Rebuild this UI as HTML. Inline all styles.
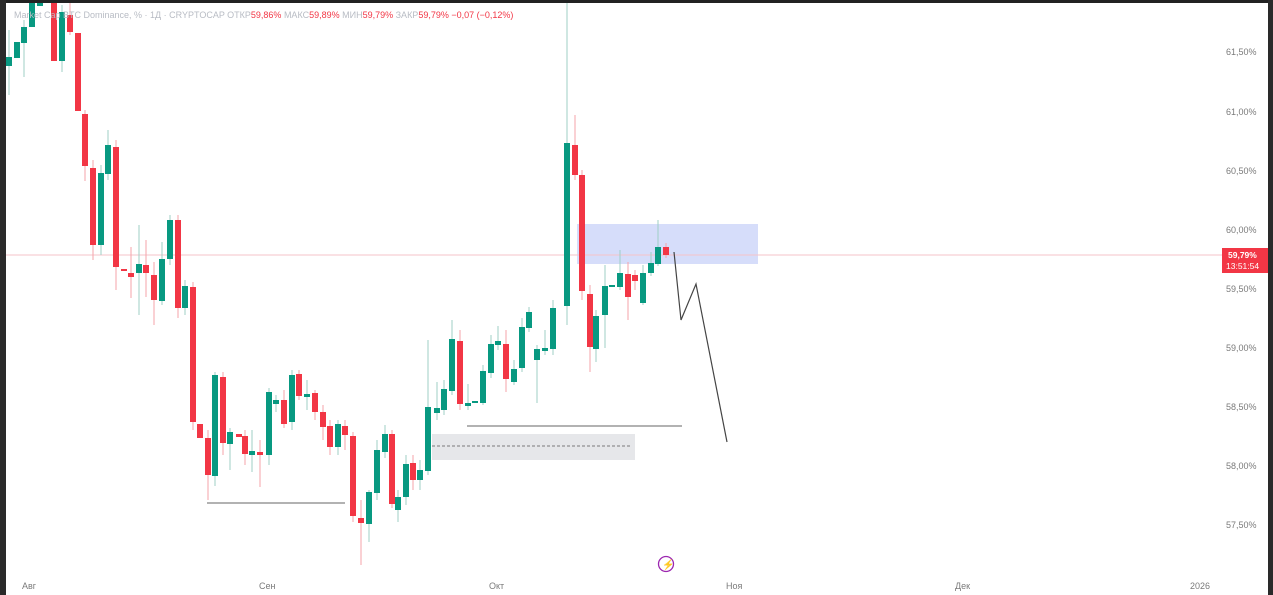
<!DOCTYPE html>
<html><head><meta charset="utf-8"><style>
html,body{margin:0;padding:0;background:#fff;}
svg{display:block;font-family:"Liberation Sans","Noto Sans CJK SC",sans-serif;}
.g{fill:#089981}.r{fill:#f23645}
.gw{stroke:#9fcfc6;stroke-width:1}.rw{stroke:#f5a3aa;stroke-width:1}
.ax{fill:#7a7a7a;font-size:9px}
</style></head><body>
<svg width="1273" height="595" viewBox="0 0 1273 595">
<rect width="1273" height="595" fill="#fff"/>
<!-- overlays -->
<rect x="577" y="224" width="181" height="40" fill="#d6ddfa"/>
<rect x="432" y="434" width="203" height="26" fill="#e6e7ea"/>
<line x1="432" y1="446" x2="632" y2="446" stroke="#555" stroke-dasharray="3,2" stroke-width="0.8"/>
<line x1="207" y1="503" x2="345" y2="503" stroke="#666" stroke-width="1"/>
<line x1="467" y1="426" x2="682" y2="426" stroke="#666" stroke-width="1"/>
<line x1="0" y1="255" x2="1222" y2="255" stroke="#f6c3c8" stroke-width="1"/>
<polyline points="674,252 681,320 696,284 727,442" fill="none" stroke="#444" stroke-width="1.2"/>
<!-- wicks -->
<g class="gw">
<line x1="9" y1="30" x2="9" y2="95"/><line x1="24" y1="20" x2="24" y2="77"/><line x1="62" y1="5" x2="62" y2="72"/>
<line x1="101" y1="165" x2="101" y2="255"/><line x1="108" y1="130" x2="108" y2="180"/><line x1="139" y1="225" x2="139" y2="315"/>
<line x1="162" y1="242" x2="162" y2="305"/><line x1="170" y1="215" x2="170" y2="265"/><line x1="185" y1="280" x2="185" y2="315"/>
<line x1="215" y1="372" x2="215" y2="486"/><line x1="230" y1="428" x2="230" y2="470"/><line x1="252" y1="430" x2="252" y2="472"/>
<line x1="269" y1="388" x2="269" y2="465"/><line x1="276" y1="395" x2="276" y2="412"/><line x1="292" y1="370" x2="292" y2="430"/>
<line x1="307" y1="380" x2="307" y2="410"/><line x1="338" y1="420" x2="338" y2="455"/><line x1="369" y1="490" x2="369" y2="542"/>
<line x1="377" y1="440" x2="377" y2="500"/><line x1="385" y1="425" x2="385" y2="458"/><line x1="398" y1="490" x2="398" y2="522"/>
<line x1="406" y1="455" x2="406" y2="505"/><line x1="420" y1="460" x2="420" y2="490"/><line x1="428" y1="340" x2="428" y2="475"/>
<line x1="437" y1="382" x2="437" y2="420"/><line x1="444" y1="380" x2="444" y2="415"/><line x1="452" y1="320" x2="452" y2="395"/>
<line x1="468" y1="384" x2="468" y2="410"/><line x1="483" y1="365" x2="483" y2="405"/><line x1="491" y1="335" x2="491" y2="378"/>
<line x1="498" y1="326" x2="498" y2="350"/><line x1="514" y1="360" x2="514" y2="385"/><line x1="522" y1="318" x2="522" y2="372"/>
<line x1="529" y1="307" x2="529" y2="332"/><line x1="537" y1="345" x2="537" y2="403"/><line x1="545" y1="330" x2="545" y2="355"/>
<line x1="553" y1="300" x2="553" y2="355"/><line x1="567" y1="0" x2="567" y2="325"/><line x1="596" y1="310" x2="596" y2="362"/>
<line x1="605" y1="265" x2="605" y2="348"/><line x1="620" y1="250" x2="620" y2="290"/><line x1="643" y1="265" x2="643" y2="305"/>
<line x1="651" y1="252" x2="651" y2="276"/><line x1="658" y1="220" x2="658" y2="266"/>
</g>
<g class="rw">
<line x1="70" y1="0" x2="70" y2="35"/><line x1="85" y1="110" x2="85" y2="181"/><line x1="93" y1="160" x2="93" y2="260"/>
<line x1="116" y1="140" x2="116" y2="290"/><line x1="131" y1="247" x2="131" y2="298"/><line x1="146" y1="240" x2="146" y2="297"/>
<line x1="154" y1="262" x2="154" y2="325"/><line x1="178" y1="215" x2="178" y2="318"/><line x1="193" y1="282" x2="193" y2="430"/>
<line x1="208" y1="430" x2="208" y2="500"/><line x1="223" y1="372" x2="223" y2="455"/><line x1="245" y1="430" x2="245" y2="465"/>
<line x1="260" y1="440" x2="260" y2="487"/><line x1="284" y1="390" x2="284" y2="428"/><line x1="299" y1="370" x2="299" y2="400"/>
<line x1="315" y1="390" x2="315" y2="420"/><line x1="323" y1="405" x2="323" y2="440"/><line x1="330" y1="420" x2="330" y2="455"/>
<line x1="345" y1="420" x2="345" y2="450"/><line x1="353" y1="432" x2="353" y2="522"/><line x1="361" y1="500" x2="361" y2="565"/>
<line x1="392" y1="430" x2="392" y2="508"/><line x1="413" y1="455" x2="413" y2="490"/><line x1="460" y1="330" x2="460" y2="410"/>
<line x1="506" y1="330" x2="506" y2="392"/><line x1="575" y1="115" x2="575" y2="180"/><line x1="582" y1="170" x2="582" y2="300"/>
<line x1="590" y1="285" x2="590" y2="372"/><line x1="628" y1="262" x2="628" y2="320"/><line x1="635" y1="270" x2="635" y2="290"/>
<line x1="666" y1="243" x2="666" y2="258"/>
</g>
<!-- bodies green -->
<g class="g">
<rect x="6" y="57" width="6" height="9"/><rect x="14" y="42" width="6" height="16"/><rect x="21" y="27" width="6" height="16"/>
<rect x="29" y="0" width="6" height="27"/><rect x="37" y="0" width="6" height="6"/><rect x="59" y="12" width="6" height="49"/>
<rect x="98" y="173" width="6" height="72"/><rect x="105" y="145" width="6" height="29"/><rect x="136" y="264" width="6" height="9"/>
<rect x="159" y="259" width="6" height="42"/><rect x="167" y="220" width="6" height="39"/><rect x="182" y="286" width="6" height="22"/>
<rect x="212" y="375" width="6" height="101"/><rect x="227" y="432" width="6" height="12"/><rect x="249" y="451" width="6" height="4"/>
<rect x="266" y="392" width="6" height="63"/><rect x="273" y="400" width="6" height="4"/><rect x="289" y="375" width="6" height="47"/>
<rect x="304" y="394" width="6" height="3"/><rect x="335" y="424" width="6" height="23"/><rect x="366" y="492" width="6" height="32"/>
<rect x="374" y="450" width="6" height="43"/><rect x="382" y="434" width="6" height="18"/><rect x="395" y="497" width="6" height="13"/>
<rect x="403" y="464" width="6" height="33"/><rect x="417" y="470" width="6" height="10"/><rect x="425" y="407" width="6" height="64"/>
<rect x="434" y="408" width="6" height="5"/><rect x="441" y="389" width="6" height="21"/><rect x="449" y="339" width="6" height="52"/>
<rect x="465" y="403" width="6" height="3"/><rect x="472" y="401" width="6" height="2"/><rect x="480" y="371" width="6" height="32"/>
<rect x="488" y="344" width="6" height="29"/><rect x="495" y="341" width="6" height="4"/><rect x="511" y="369" width="6" height="13"/>
<rect x="519" y="327" width="6" height="41"/><rect x="526" y="312" width="6" height="16"/><rect x="534" y="349" width="6" height="11"/>
<rect x="542" y="348" width="6" height="3"/><rect x="550" y="308" width="6" height="41"/><rect x="564" y="143" width="6" height="163"/>
<rect x="593" y="316" width="6" height="33"/><rect x="602" y="286" width="6" height="29"/><rect x="609" y="285" width="6" height="2"/>
<rect x="617" y="273" width="6" height="14"/><rect x="640" y="273" width="6" height="30"/><rect x="648" y="263" width="6" height="10"/>
<rect x="655" y="247" width="6" height="17"/>
</g>
<g class="r">
<rect x="51" y="0" width="6" height="61"/><rect x="67" y="15" width="6" height="17"/><rect x="75" y="33" width="6" height="78"/>
<rect x="82" y="114" width="6" height="52"/><rect x="90" y="168" width="6" height="77"/><rect x="113" y="147" width="6" height="120"/>
<rect x="121" y="269" width="6" height="2"/><rect x="128" y="273" width="6" height="4"/><rect x="143" y="265" width="6" height="8"/>
<rect x="151" y="275" width="6" height="25"/><rect x="175" y="220" width="6" height="88"/><rect x="190" y="287" width="6" height="135"/>
<rect x="197" y="424" width="6" height="14"/><rect x="205" y="438" width="6" height="37"/><rect x="220" y="377" width="6" height="66"/>
<rect x="236" y="434" width="6" height="3"/><rect x="242" y="436" width="6" height="18"/><rect x="257" y="452" width="6" height="3"/>
<rect x="281" y="400" width="6" height="24"/><rect x="296" y="374" width="6" height="22"/><rect x="312" y="393" width="6" height="19"/>
<rect x="320" y="412" width="6" height="15"/><rect x="327" y="426" width="6" height="21"/><rect x="342" y="426" width="6" height="9"/>
<rect x="350" y="436" width="6" height="80"/><rect x="358" y="518" width="6" height="5"/><rect x="389" y="434" width="6" height="70"/>
<rect x="410" y="463" width="6" height="17"/><rect x="457" y="341" width="6" height="63"/><rect x="503" y="344" width="6" height="35"/>
<rect x="572" y="145" width="6" height="30"/><rect x="579" y="175" width="6" height="116"/><rect x="587" y="294" width="6" height="53"/>
<rect x="625" y="274" width="6" height="23"/><rect x="632" y="275" width="6" height="6"/><rect x="663" y="247" width="6" height="8"/>
</g>
<!-- header -->
<text x="14" y="18" font-size="9" fill="#b8bcc4">Market Cap BTC Dominance, % · 1Д · CRYPTOCAP  ОТКР<tspan fill="#f23645">59,86%</tspan>  МАКС<tspan fill="#f23645">59,89%</tspan>  МИН<tspan fill="#f23645">59,79%</tspan>  ЗАКР<tspan fill="#f23645">59,79%</tspan>  <tspan fill="#f23645">−0,07 (−0,12%)</tspan></text>
<!-- axis -->
<g class="ax">
<text x="1226" y="55">61,50%</text><text x="1226" y="115">61,00%</text><text x="1226" y="174">60,50%</text>
<text x="1226" y="233">60,00%</text><text x="1226" y="292">59,50%</text><text x="1226" y="351">59,00%</text>
<text x="1226" y="410">58,50%</text><text x="1226" y="469">58,00%</text><text x="1226" y="528">57,50%</text>
<text x="22" y="589">Авг</text><text x="259" y="589">Сен</text><text x="489" y="589">Окт</text>
<text x="726" y="589">Ноя</text><text x="955" y="589">Дек</text><text x="1190" y="589">2026</text>
</g>
<rect x="1222" y="248" width="46" height="25" fill="#f23645"/>
<text x="1228" y="258" font-size="8.5" fill="#fff" font-weight="bold">59,79%</text>
<text x="1226" y="269" font-size="8.5" fill="#fff">13:51:54</text>
<circle cx="666" cy="564" r="7.5" fill="none" stroke="#9c27b0" stroke-width="1.3"/>
<text x="662" y="568" font-size="10" fill="#9c27b0">⚡</text>
<!-- frame -->
<rect x="0" y="0" width="1273" height="3" fill="#222"/>
<rect x="0" y="0" width="6" height="595" fill="#2a2a2a"/>
<rect x="1268" y="0" width="5" height="595" fill="#2a2a2a"/>
</svg>
</body></html>
